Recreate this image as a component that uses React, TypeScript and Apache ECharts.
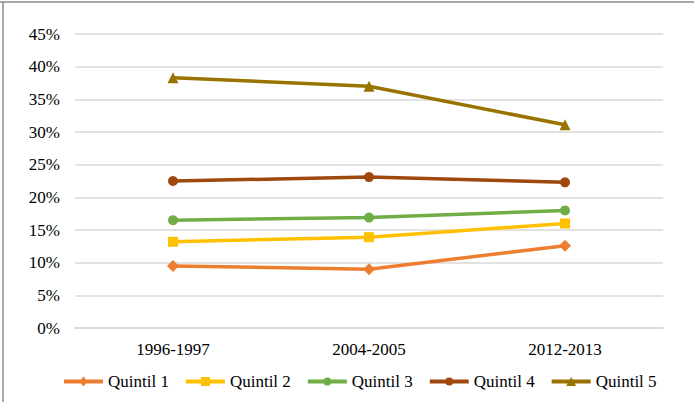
import React, { useEffect, useRef } from "react";
import * as echarts from "echarts";

const periods = ["1996-1997", "2004-2005", "2012-2013"];
const quintil1 = [9.5, 9.0, 12.6];
const quintil2 = [13.2, 13.9, 16.0];
const quintil3 = [16.5, 16.9, 18.0];
const quintil4 = [22.5, 23.1, 22.3];
const quintil5 = [38.3, 37.0, 31.1];
const seriesNames = ["Quintil 1", "Quintil 2", "Quintil 3", "Quintil 4", "Quintil 5"];
const seriesColors = ["#ED7D31", "#FFC000", "#70AD47", "#9E480E", "#997300"];
const seriesSymbols = ["diamond", "rect", "circle", "circle", "triangle"];
const seriesSymbolSizes = [12, 10, 10, 10, 11];

// Legend keys: a thick line with the series marker in its middle (39 x 10 box)
const KEY_LINE = "M0,3 H39 V7 H0 Z";
const legendMarkers = [
  "M19.5,0 L23.5,5 L19.5,10 L15.5,5 Z",
  "M15,0.5 H24 V9.5 H15 Z",
  "M15.5,5 A4,4 0 1 1 23.5,5 A4,4 0 1 1 15.5,5 Z",
  "M15.5,5 A4,4 0 1 1 23.5,5 A4,4 0 1 1 15.5,5 Z",
  "M19.5,0.5 L24.5,9.5 L14.5,9.5 Z",
];

const FONT = "Liberation Serif";

export default function App() {
  const ref = useRef<HTMLDivElement>(null);

  useEffect(() => {
    if (!ref.current) return;
    const chart = echarts.init(ref.current, undefined, { renderer: "svg" });
    const values = [quintil1, quintil2, quintil3, quintil4, quintil5];

    chart.setOption({
      animation: false,
      backgroundColor: "#ffffff",
      textStyle: { fontFamily: FONT, color: "#000" },
      grid: { left: 75, right: 31, top: 34, bottom: 74, containLabel: false },
      legend: {
        left: 59,
        top: 368,
        itemWidth: 39,
        itemHeight: 10,
        itemGap: 17,
        textStyle: { fontFamily: FONT, fontSize: 17, color: "#000" },
        data: seriesNames.map((name, i) => ({
          name,
          icon: "path://" + KEY_LINE + " " + legendMarkers[i],
          itemStyle: { color: seriesColors[i] },
        })),
      },
      xAxis: {
        type: "category",
        data: periods,
        boundaryGap: true,
        axisLine: { show: true, lineStyle: { color: "#d9d9d9", width: 1.5 } },
        axisTick: { show: false },
        axisLabel: { fontFamily: FONT, fontSize: 17, color: "#000", margin: 13 },
      },
      yAxis: {
        type: "value",
        min: 0,
        max: 45,
        interval: 5,
        axisLine: { show: false },
        axisTick: { show: false },
        axisLabel: { fontFamily: FONT, fontSize: 17, color: "#000", margin: 15, formatter: "{value}%" },
        splitLine: { lineStyle: { color: "#d9d9d9", width: 1.5 } },
      },
      series: seriesNames.map((name, i) => ({
        name,
        type: "line",
        data: values[i],
        symbol: seriesSymbols[i],
        symbolSize: seriesSymbolSizes[i],
        color: seriesColors[i],
        lineStyle: { width: 3.5, color: seriesColors[i] },
        itemStyle: { color: seriesColors[i] },
      })),
      graphic: [
        { type: "line", shape: { x1: 0, y1: 2, x2: 694, y2: 2 }, style: { stroke: "#8c8c8c", lineWidth: 1.5 } },
        { type: "line", shape: { x1: 3, y1: 2, x2: 3, y2: 402 }, style: { stroke: "#8c8c8c", lineWidth: 1.5 } },
      ],
    });

    return () => chart.dispose();
  }, []);

  return (
    <div
      ref={ref}
      style={{ position: "fixed", left: 0, top: 0, width: 694, height: 402 }}
    />
  );
}
